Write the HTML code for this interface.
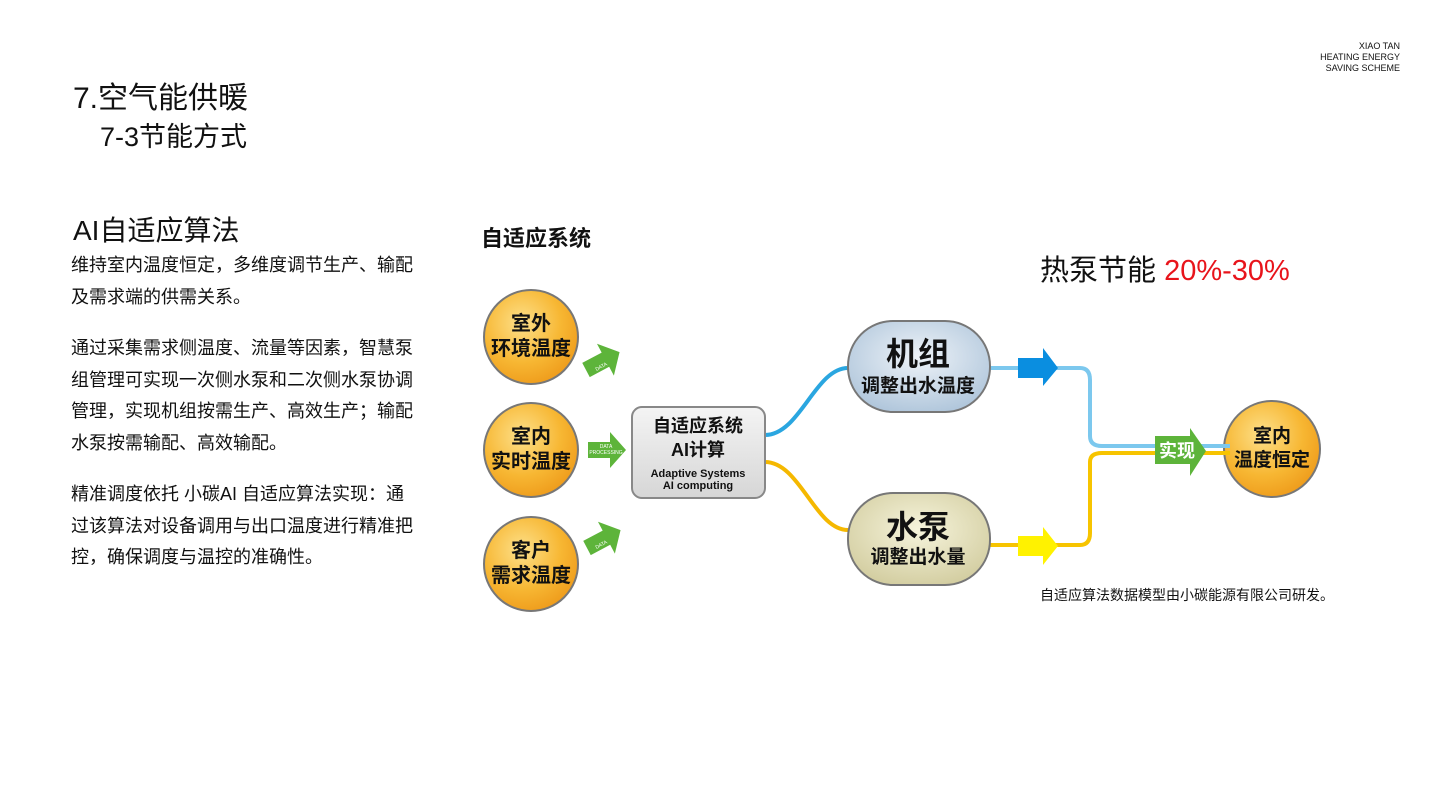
<!DOCTYPE html>
<html><head><meta charset="utf-8"><style>
body{margin:0;width:1440px;height:810px;background:#fff;position:relative;overflow:hidden;font-family:"Liberation Sans","Noto Sans CJK SC",sans-serif;color:#111}
.a{position:absolute;white-space:nowrap}
p{margin:0}
</style></head><body>
<div class="a" style="right:40px;top:41px;font-size:9px;line-height:11px;text-align:right">XIAO TAN<br>HEATING ENERGY<br>SAVING SCHEME</div>
<div class="a" style="left:73px;top:73px;font-size:30px">7.空气能供暖</div>
<div class="a" style="left:100px;top:115px;font-size:27px">7-3节能方式</div>
<div class="a" style="left:73px;top:209px;font-size:28px">AI自适应算法</div>
<div class="a" style="left:71px;top:250px;font-size:18px;line-height:31.5px">
<p>维持室内温度恒定，多维度调节生产、输配</p><p>及需求端的供需关系。</p>
<p style="margin-top:20px">通过采集需求侧温度、流量等因素，智慧泵</p><p>组管理可实现一次侧水泵和二次侧水泵协调</p><p>管理，实现机组按需生产、高效生产；输配</p><p>水泵按需输配、高效输配。</p>
<p style="margin-top:20px">精准调度依托 小碳AI 自适应算法实现：通</p><p>过该算法对设备调用与出口温度进行精准把</p><p>控，确保调度与温控的准确性。</p></div>
<div class="a" style="left:481px;top:221px;font-size:22px;font-weight:bold">自适应系统</div>
<div class="a" style="left:1040px;top:247px;font-size:29px">热泵节能 <span style="color:#e8141b">20%-30%</span></div>
<div class="a" style="left:1040px;top:585px;font-size:14px">自适应算法数据模型由小碳能源有限公司研发。</div>
<svg class="a" style="left:0;top:0" width="1440" height="810" font-family="Liberation Sans,Noto Sans CJK SC,sans-serif" font-weight="bold">
<defs>
<radialGradient id="o" cx="0.4" cy="0.35" r="0.7"><stop offset="0" stop-color="#fde08a"/><stop offset="0.6" stop-color="#f7b733"/><stop offset="1" stop-color="#ee9a1a"/></radialGradient>
<radialGradient id="b" cx="0.5" cy="0.4" r="0.7"><stop offset="0" stop-color="#eef3f8"/><stop offset="1" stop-color="#a9c1d8"/></radialGradient>
<radialGradient id="y" cx="0.5" cy="0.4" r="0.7"><stop offset="0" stop-color="#f6f4dc"/><stop offset="1" stop-color="#cfc99a"/></radialGradient>
<linearGradient id="g" x1="0" y1="0" x2="0" y2="1"><stop offset="0" stop-color="#f4f4f4"/><stop offset="1" stop-color="#d6d6d6"/></linearGradient>
</defs>
<g stroke="#777" stroke-width="2">
<circle cx="531" cy="337" r="47" fill="url(#o)"/>
<circle cx="531" cy="450" r="47" fill="url(#o)"/>
<circle cx="531" cy="564" r="47" fill="url(#o)"/>
<circle cx="1272" cy="449" r="48" fill="url(#o)"/>
</g>
<g font-size="20" text-anchor="middle" fill="#111">
<text x="531" y="330">室外</text><text x="531" y="355">环境温度</text>
<text x="531" y="443">室内</text><text x="531" y="468">实时温度</text>
<text x="531" y="557">客户</text><text x="531" y="582">需求温度</text>
<text x="1272" y="442" font-size="19">室内</text><text x="1272" y="466" font-size="19">温度恒定</text>
</g>
<g fill="#5db43a">
<path d="M0,-8 H22 V-18 L38,0 L22,18 V8 H0Z" transform="translate(586,370) rotate(-28)"/>
<path d="M0,-8 H22 V-18 L38,0 L22,18 V8 H0Z" transform="translate(588,450)"/>
<path d="M0,-8 H22 V-18 L38,0 L22,18 V8 H0Z" transform="translate(587,548) rotate(-28)"/>
</g>
<g fill="#fff" font-size="5" font-weight="normal" text-anchor="middle">
<text x="602" y="368" transform="rotate(-28 602 368)">DATA</text>
<text x="606" y="448">DATA</text><text x="606" y="454">PROCESSING</text>
<text x="602" y="546" transform="rotate(-28 602 546)">DATA</text>
</g>
<path d="M765,435 C800,435 815,368 848,368" stroke="#2aa6e0" stroke-width="4" fill="none"/>
<path d="M765,462 C800,462 815,530 848,530" stroke="#f5b800" stroke-width="4" fill="none"/>
<rect x="632" y="407" width="133" height="91" rx="10" fill="url(#g)" stroke="#888" stroke-width="2"/>
<g text-anchor="middle" fill="#111">
<text x="698" y="432" font-size="18">自适应系统</text>
<text x="698" y="456" font-size="18">AI计算</text>
<text x="698" y="477" font-size="11">Adaptive Systems</text>
<text x="698" y="489" font-size="11">AI computing</text>
</g>
<path d="M990,368 H1080 Q1090,368 1090,380 V436 Q1090,446 1102,446 H1230" stroke="#7cc8ee" stroke-width="4" fill="none"/>
<path d="M990,545 H1080 Q1090,545 1090,533 V462 Q1090,453 1102,453 H1230" stroke="#f7c400" stroke-width="4" fill="none"/>
<rect x="848" y="321" width="142" height="91" rx="45" fill="url(#b)" stroke="#777" stroke-width="2"/>
<rect x="848" y="493" width="142" height="92" rx="45" fill="url(#y)" stroke="#777" stroke-width="2"/>
<g text-anchor="middle" fill="#111">
<text x="918" y="365" font-size="32">机组</text><text x="918" y="392" font-size="19">调整出水温度</text>
<text x="918" y="538" font-size="32">水泵</text><text x="918" y="563" font-size="19">调整出水量</text>
</g>
<path d="M1018,358 H1043 V348 L1058,368 L1043,386 V378 H1018Z" fill="#0a8ee0"/>
<path d="M1018,536 H1043 V527 L1058,546 L1043,565 V556 H1018Z" fill="#fff200"/>
<path d="M1155,436 H1190 V428 L1206,451 L1190,476 V464 H1155Z" fill="#5db43a"/>
<text x="1177" y="457" font-size="18" fill="#fff" text-anchor="middle">实现</text>
</svg>
</body></html>
